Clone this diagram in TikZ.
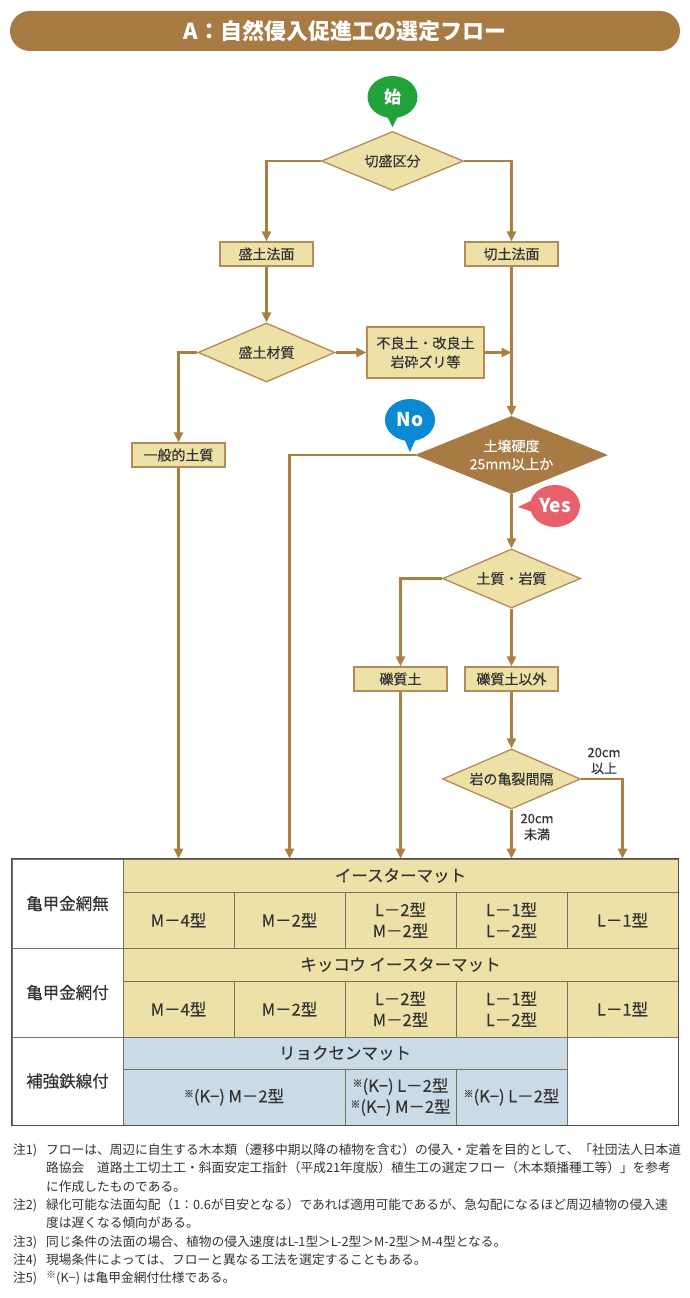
\documentclass[tikz,border=0pt]{standalone}
\usepackage{fontspec}
\setmainfont{Noto Sans CJK JP}
\newfontfamily\medjp{Noto Sans CJK JP}[FakeBold=0.22]
\usetikzlibrary{shapes.geometric,arrows.meta}

\definecolor{hdrbrown}{HTML}{A87B45}
\definecolor{linebrown}{HTML}{A97F42}
\definecolor{boxfill}{HTML}{EDE1A7}
\definecolor{boxline}{HTML}{B38B56}
\definecolor{matblue}{HTML}{CADAE6}
\definecolor{startgreen}{HTML}{22A23A}
\definecolor{noblue}{HTML}{0A8AD2}
\definecolor{yesred}{HTML}{E8616A}
\definecolor{inkgrey}{HTML}{333333}
\definecolor{gridgrey}{HTML}{77715F}
\definecolor{framegrey}{HTML}{4D4D4D}

\newcommand{\komeK}{\raisebox{0.3em}{\fontsize{10}{10}\selectfont ※}}

\tikzset{
  titlebar/.style={fill=hdrbrown, rounded corners=20pt, minimum width=670pt, minimum height=40pt,
    text=white, font=\fontsize{22}{24}\selectfont\bfseries},
  bubble/.style={ellipse, minimum width=50pt, minimum height=42pt, inner sep=0pt, text=white},
  flowbox/.style={draw=boxline, fill=boxfill, line width=1.3pt, minimum width=93pt, minimum height=24pt,
    inner sep=0pt, align=center, text=inkgrey, font=\medjp\fontsize{14}{19}\selectfont},
  flowdiamond/.style={diamond, draw=boxline, fill=boxfill, line width=1.3pt, inner sep=0pt, aspect=2.4,
    align=center, text=inkgrey, font=\medjp\fontsize{14}{18}\selectfont},
  flowline/.style={draw=linebrown, line width=2.2pt},
  flowarrow/.style={flowline, -{Triangle[width=9pt,length=10pt]}},
  branchlabel/.style={align=center, text=inkgrey, font=\medjp\fontsize{13}{16}\selectfont, inner sep=0pt},
  cell/.style={draw=gridgrey, line width=0.8pt, inner sep=0pt, align=center, text=inkgrey,
    font=\medjp\fontsize{16.5}{21}\selectfont},
  matcell/.style={cell, fill=boxfill},
  bluecell/.style={cell, fill=matblue},
  headcell/.style={cell, fill=white, font=\medjp\fontsize{16.5}{20}\selectfont},
  frame/.style={draw=framegrey, line width=1.6pt},
  notetext/.style={anchor=base west, inner sep=0pt, text=inkgrey, font=\fontsize{12.72}{15}\selectfont}
}

\begin{document}
\begin{tikzpicture}[x=1pt,y=-1pt]
  \useasboundingbox (0,0) rectangle (690,1298);
  \fill[white] (0,0) rectangle (690,1298);

  % Drawing title bar
  \node[titlebar] (title) at (345,31) {A：自然侵入促進工の選定フロー};

  % Drawing start bubble
  \node[bubble, fill=startgreen, font=\fontsize{17}{17}\selectfont\bfseries] (start) at (392.5,97) {始};
  \fill[startgreen] (start.south) ++(-6,-3) -- ++(12,0) -- ++(-6,12) -- cycle;

  % Drawing decisions and boxes
  \node[flowdiamond, minimum width=142pt, minimum height=59pt] (kirimori) at (392.5,161) {切盛区分};
  \node[flowbox] (morido) at (266.5,254) {盛土法面};
  \node[flowbox] (kirido) at (511.5,254) {切土法面};
  \node[flowdiamond, minimum width=137pt, minimum height=59pt] (morizai) at (266.5,352.5) {盛土材質};
  \node[flowbox, minimum width=117pt, minimum height=51pt] (furyo) at (425.5,352.5) {不良土・改良土\\岩砕ズリ等};
  \node[flowbox] (ippan) at (178.5,455) {一般的土質};
  \node[flowdiamond, minimum width=190pt, minimum height=77pt, fill=hdrbrown, draw=hdrbrown, text=white]
    (kodo) at (511.5,455) {土壌硬度\\25mm以上か};
  \node[flowdiamond, minimum width=138pt, minimum height=59pt] (dositsu) at (511.5,578.5) {土質・岩質};
  \node[flowbox] (rekisitsu) at (400.5,679) {礫質土};
  \node[flowbox] (igai) at (511.5,679) {礫質土以外};
  \node[flowdiamond, minimum width=138pt, minimum height=60pt] (kiretsu) at (511.5,779) {岩の亀裂間隔};

  % Drawing No / Yes bubbles
  \node[bubble, fill=noblue, font=\fontsize{19}{19}\selectfont\bfseries] (nob) at (410,420) {No};
  \fill[noblue] (nob.south) ++(-6,-3) -- ++(12,0) -- ++(-6,14) -- cycle;
  \node[bubble, fill=yesred, font=\fontsize{19}{19}\selectfont\bfseries] (yesb) at (555,506) {Yes};
  \fill[yesred] (yesb.west) ++(3,-6) -- ++(0,12) -- ++(-15,-5) -- cycle;

  % Drawing branch labels
  \node[branchlabel] (over) at (604,761) {20cm\\以上};
  \node[branchlabel] (under) at (537,827) {20cm\\未満};

  % Drawing table, row 1
  \node[headcell, minimum width=111pt, minimum height=89pt] (nashi) at (67.5,903.5) {亀甲金網無};
  \node[matcell, minimum width=555pt, minimum height=33pt] (easter) at (400.5,875.5) {イースターマット};
  \node[matcell, minimum width=111pt, minimum height=56pt] (ea1) at (178.5,920) {M－4型};
  \node[matcell, minimum width=111pt, minimum height=56pt] (ea2) at (289.5,920) {M－2型};
  \node[matcell, minimum width=111pt, minimum height=56pt] (ea3) at (400.5,920) {L－2型\\M－2型};
  \node[matcell, minimum width=111pt, minimum height=56pt] (ea4) at (511.5,920) {L－1型\\L－2型};
  \node[matcell, minimum width=111pt, minimum height=56pt] (ea5) at (622.5,920) {L－1型};

  % Drawing table, row 2
  \node[headcell, minimum width=111pt, minimum height=89pt] (tsuki) at (67.5,992.5) {亀甲金網付};
  \node[matcell, minimum width=555pt, minimum height=33pt] (kikkou) at (400.5,964.5) {キッコウ イースターマット};
  \node[matcell, minimum width=111pt, minimum height=56pt] (ki1) at (178.5,1009) {M－4型};
  \node[matcell, minimum width=111pt, minimum height=56pt] (ki2) at (289.5,1009) {M－2型};
  \node[matcell, minimum width=111pt, minimum height=56pt] (ki3) at (400.5,1009) {L－2型\\M－2型};
  \node[matcell, minimum width=111pt, minimum height=56pt] (ki4) at (511.5,1009) {L－1型\\L－2型};
  \node[matcell, minimum width=111pt, minimum height=56pt] (ki5) at (622.5,1009) {L－1型};

  % Drawing table, row 3
  \node[headcell, minimum width=111pt, minimum height=88pt] (hokyo) at (67.5,1081) {補強鉄線付};
  \node[bluecell, minimum width=444pt, minimum height=32pt] (ryoku) at (345,1053) {リョクセンマット};
  \node[bluecell, minimum width=222pt, minimum height=56pt] (ry1) at (234,1097) {\komeK(K−) M－2型};
  \node[bluecell, minimum width=111pt, minimum height=56pt] (ry3) at (400.5,1097)
    {\komeK(K−) L－2型\\\komeK(K−) M－2型};
  \node[bluecell, minimum width=111pt, minimum height=56pt] (ry4) at (511.5,1097) {\komeK(K−) L－2型};
  \node[cell, fill=white, minimum width=111pt, minimum height=88pt] (blank) at (622.5,1081) {};
  \draw[frame] (nashi.north west) rectangle (blank.south east);

  % Drawing connectors
  \draw[flowarrow] (kirimori.west) -| (morido.north);
  \draw[flowarrow] (kirimori.east) -| (kirido.north);
  \draw[flowarrow] (morido.south) -- (morizai.north);
  \draw[flowarrow] (morizai.east) -- (furyo.west);
  \draw[flowarrow] (furyo.east) -- (furyo.east -| kirido.south);
  \draw[flowarrow] (kirido.south) -- (kodo.north);
  \draw[flowarrow] (morizai.west) -| (ippan.north);
  \draw[flowarrow] (ippan.south) -- (ippan.south |- easter.north);
  \draw[flowarrow] (kodo.west) -| (ea2.north |- easter.north);
  \draw[flowarrow] (kodo.south) -- (dositsu.north);
  \draw[flowarrow] (dositsu.west) -| (rekisitsu.north);
  \draw[flowarrow] (dositsu.south) -- (igai.north);
  \draw[flowarrow] (rekisitsu.south) -- (rekisitsu.south |- easter.north);
  \draw[flowarrow] (igai.south) -- (kiretsu.north);
  \draw[flowarrow] (kiretsu.south) -- (kiretsu.south |- easter.north);
  \draw[flowarrow] (kiretsu.east) -| (ea5.north |- easter.north);

  % Drawing notes
  \node[notetext] (n1) at (13,1154.5) {注1)};
  \node[notetext] (n1a) at (46,1154.5) {フローは、周辺に自生する木本類（遷移中期以降の植物を含む）の侵入・定着を目的として、「社団法人日本道};
  \node[notetext] (n1b) at (46,1172.8) {路協会　道路土工切土工・斜面安定工指針（平成21年度版）植生工の選定フロー（木本類播種工等）」を参考};
  \node[notetext] (n1c) at (46,1191.1) {に作成したものである。};
  \node[notetext] (n2) at (13,1209.4) {注2)};
  \node[notetext] (n2a) at (46,1209.4) {緑化可能な法面勾配（1：0.6が目安となる）であれば適用可能であるが、急勾配になるほど周辺植物の侵入速};
  \node[notetext] (n2b) at (46,1227.7) {度は遅くなる傾向がある。};
  \node[notetext] (n3) at (13,1246) {注3)};
  \node[notetext] (n3a) at (46,1246) {同じ条件の法面の場合、植物の侵入速度はL-1型＞L-2型＞M-2型＞M-4型となる。};
  \node[notetext] (n4) at (13,1264.3) {注4)};
  \node[notetext] (n4a) at (46,1264.3) {現場条件によっては、フローと異なる工法を選定することもある。};
  \node[notetext] (n5) at (13,1282.6) {注5)};
  \node[notetext] (n5a) at (46,1282.6) {\komeK(K−) は亀甲金網付仕様である。};
\end{tikzpicture}
\end{document}
